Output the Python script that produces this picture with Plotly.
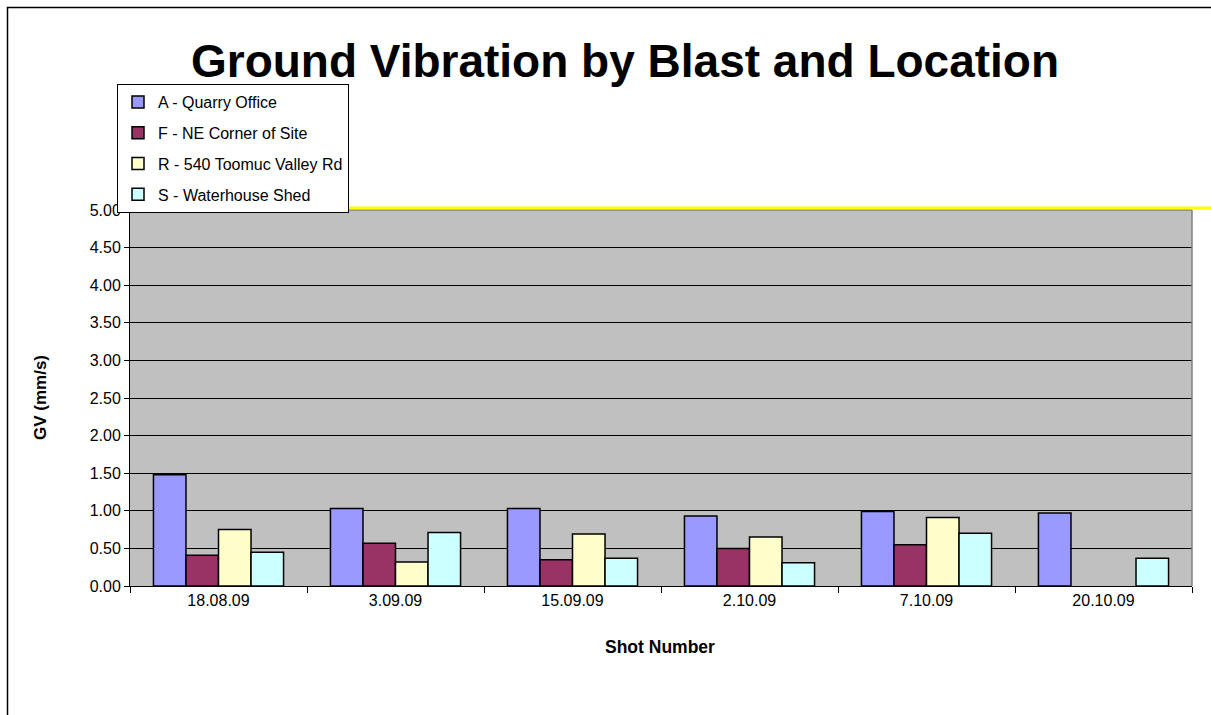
import plotly.graph_objects as go

shots = ["18.08.09", "3.09.09", "15.09.09", "2.10.09", "7.10.09", "20.10.09"]
series_names = ["A - Quarry Office", "F - NE Corner of Site", "R - 540 Toomuc Valley Rd", "S - Waterhouse Shed"]
a_quarry = [1.48, 1.03, 1.03, 0.93, 0.99, 0.97]
f_corner = [0.41, 0.57, 0.35, 0.50, 0.55, None]
r_toomuc = [0.75, 0.32, 0.69, 0.65, 0.91, None]
s_shed = [0.45, 0.71, 0.37, 0.31, 0.70, 0.37]
y_ticks = [0, 0.5, 1.0, 1.5, 2.0, 2.5, 3.0, 3.5, 4.0, 4.5, 5.0]

colors = ["#9999FF", "#993366", "#FFFFCC", "#CCFFFF"]
values = [a_quarry, f_corner, r_toomuc, s_shed]

fig = go.Figure()
for i, (name, vals, col) in enumerate(zip(series_names, values, colors)):
    fig.add_trace(go.Bar(
        x=shots, y=vals, name=name, legendgroup=f"g{i}",
        marker=dict(color=col, line=dict(color="black", width=1.5)),
    ))

W, H = 1211, 715
L, R, T, B = 130, 1192, 210, 586
pw, ph = R - L, B - T

def px(x):
    return (x - L) / pw

def py(y):
    return (B - y) / ph

FONT = "Liberation Sans, Arial, sans-serif"

fig.update_layout(
    width=W, height=H,
    margin=dict(l=L, r=W - R, t=T, b=H - B, autoexpand=False),
    paper_bgcolor="white",
    plot_bgcolor="#C0C0C0",
    font=dict(family=FONT, color="black"),
    barmode="group",
    bargap=0.265,
    bargroupgap=0,
    showlegend=True,
    title=dict(
        text="<b>Ground Vibration by Blast and Location</b>",
        font=dict(size=46, family=FONT, color="black"),
        x=px(625), xref="paper", xanchor="center",
        y=1 - 61 / H, yref="container", yanchor="middle",
    ),
    legend=dict(
        x=px(117), y=py(84), xanchor="left", yanchor="top",
        bgcolor="white", bordercolor="black", borderwidth=1,
        font=dict(size=16, family=FONT),
        traceorder="grouped", tracegroupgap=7,
        itemclick=False,
    ),
    xaxis=dict(
        type="category",
        showgrid=False,
        showline=True, linecolor="black", linewidth=1,
        ticks="outside", tickson="boundaries", ticklen=6, tickcolor="black",
        tickfont=dict(size=16),
        zeroline=False,
    ),
    yaxis=dict(
        range=[0, 5],
        tickvals=y_ticks,
        tickformat=".2f",
        showgrid=True, gridcolor="black", gridwidth=1,
        showline=True, linecolor="black", linewidth=1,
        ticks="outside", ticklen=5, tickcolor="black",
        tickfont=dict(size=16),
        zeroline=False,
    ),
    annotations=[
        dict(text="<b>GV (mm/s)</b>", x=px(40), y=0.5, xref="paper", yref="paper",
             textangle=-90, showarrow=False, font=dict(size=17), xanchor="center", yanchor="middle"),
        dict(text="<b>Shot Number</b>", x=px(660), y=py(647), xref="paper", yref="paper",
             showarrow=False, font=dict(size=17.5), xanchor="center", yanchor="middle"),
    ],
    shapes=[
        dict(type="line", xref="paper", yref="paper", x0=0, x1=1, y0=1, y1=1,
             line=dict(color="#808080", width=1.5), layer="above"),
        dict(type="line", xref="paper", yref="paper", x0=1, x1=1, y0=0, y1=1,
             line=dict(color="#808080", width=1.5), layer="above"),
        dict(type="line", xref="paper", yref="paper", x0=px(122), x1=px(1215), y0=py(208), y1=py(208),
             line=dict(color="#FFFF00", width=3), layer="above"),
        dict(type="rect", xref="paper", yref="paper", x0=px(7.5), x1=px(1260), y0=py(7.5), y1=py(760),
             line=dict(color="black", width=1.5), fillcolor="rgba(0,0,0,0)", layer="above"),
    ],
)

fig.write_html(
    "out.html",
    config={"displayModeBar": False},
    post_script="document.body.style.margin='0px';document.body.style.overflow='hidden';",
)
